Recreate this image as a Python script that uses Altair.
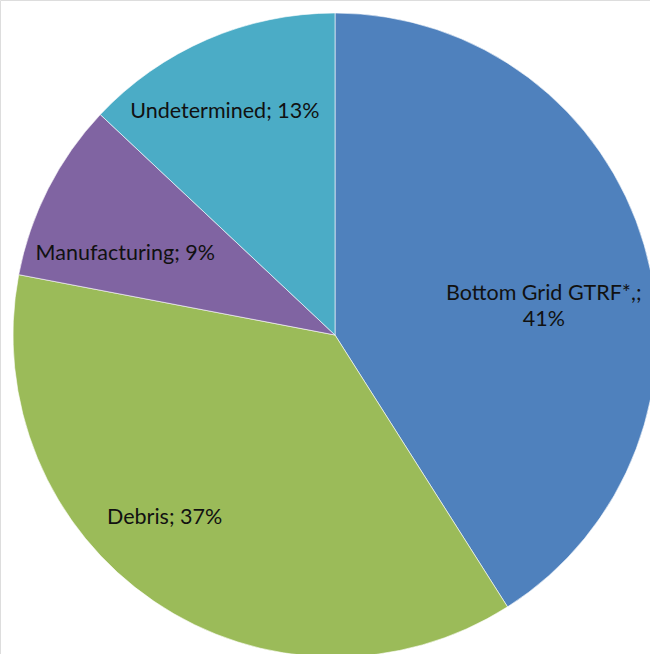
import altair as alt
import pandas as pd
import math

categories = ["Bottom Grid GTRF*,;", "Debris", "Manufacturing", "Undetermined"]
shares = [41, 37, 9, 13]
colors = ["#4F81BD", "#9BBB59", "#8064A2", "#4BACC6"]

df = pd.DataFrame({
    "category": categories,
    "share": shares,
    "order": list(range(len(categories))),
})
df["label"] = [
    "Bottom Grid GTRF*,;\n41%" if c.startswith("Bottom") else f"{c}; {s}%"
    for c, s in zip(categories, shares)
]

theta_scale = alt.Scale(domain=[0, 100], range=[0, 2 * math.pi])

pie = alt.Chart(df).mark_arc(outerRadius=322, stroke="#ffffff", strokeWidth=0.6).encode(
    theta=alt.Theta("share:Q", stack=True, scale=theta_scale),
    order=alt.Order("order:Q"),
    color=alt.Color("category:N", scale=alt.Scale(domain=categories, range=colors), legend=None),
    x=alt.value(335),
    y=alt.value(335),
)

# label placement style offsets (pixels), keyed by category
label_offsets = {
    "Bottom Grid GTRF*,;": (-14, 24),
    "Debris": (-40, -9),
    "Manufacturing": (-3, 24),
    "Undetermined": (-18, -10),
}

layers = [pie]
for cat in categories:
    ox, oy = label_offsets[cat]
    t = (
        alt.Chart(df)
        .transform_stack(stack="share", groupby=[], as_=["t0", "t1"], sort=[alt.SortField("order")])
        .transform_calculate(mid="(datum.t0 + datum.t1) / 2")
        .transform_filter(alt.datum.category == cat)
        .mark_text(
            font="Lato", fontSize=21.5, color="#111111", lineBreak="\n", lineHeight=26,
            align="center", baseline="middle", dx=ox, dy=oy,
        )
        .encode(
            theta=alt.Theta("mid:Q", scale=theta_scale),
            text="label:N",
            x=alt.value(335),
            y=alt.value(335),
            radius=alt.value(232),
        )
    )
    layers.append(t)

chart = (
    alt.layer(*layers)
    .properties(width=650, height=654, padding=0, autosize=alt.AutoSizeParams(type="none"))
    .configure_view(stroke=None)
    .configure(background="#ffffff")
)

chart.save("out.html", embed_options={"renderer": "svg", "actions": False})
